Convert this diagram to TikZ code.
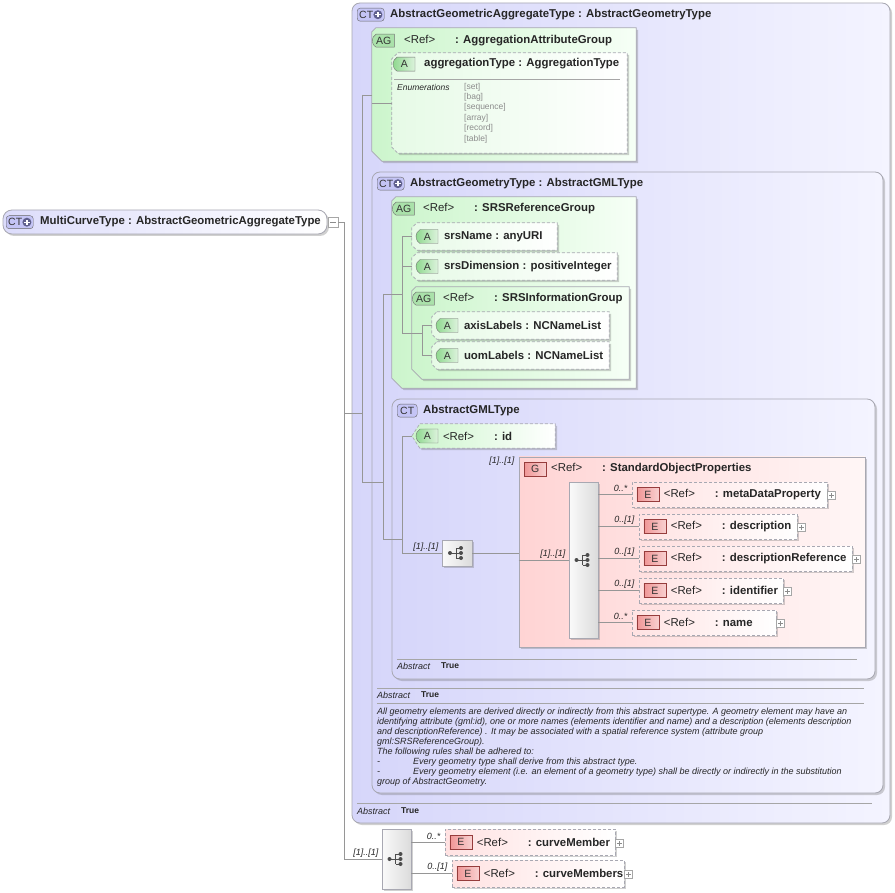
\documentclass[tikz,border=0pt]{standalone}
\usepackage{fontspec}
\setmainfont{Liberation Sans}
\usetikzlibrary{positioning,fit,shadows,shapes.misc}

\definecolor{ctfill}{RGB}{214,214,250}
\definecolor{ctlight}{RGB}{244,244,255}
\definecolor{agfill}{RGB}{204,245,204}
\definecolor{aglight}{RGB}{246,255,246}
\definecolor{attfill}{RGB}{230,250,230}
\definecolor{gfill}{RGB}{255,212,212}
\definecolor{glight}{RGB}{255,246,246}
\definecolor{efill}{RGB}{255,226,226}
\definecolor{edgec}{RGB}{168,168,178}
\definecolor{wirec}{RGB}{150,150,150}
\definecolor{ctbadgec}{RGB}{196,196,245}
\definecolor{agbadgec}{RGB}{170,225,170}
\definecolor{abadgec}{RGB}{140,215,140}
\definecolor{ebadgec}{RGB}{240,150,150}
\definecolor{ebordc}{RGB}{150,60,60}
\definecolor{plusc}{RGB}{95,95,140}

\newcommand{\boxat}[4]{\node[fit={(#3) (#4)}, inner sep=0pt, #1] (#2) {};}
\newcommand{\chamfer}[4]{\draw[#2] ([xshift=#3]#1.north west) -- (#1.north east) -- (#1.south east)
    -- ([xshift=#4]#1.south west) -- ([yshift=#4]#1.south west) -- ([yshift=-#3]#1.north west) -- cycle;}
\newcommand{\pointed}[3]{\draw[#2] ([xshift=#3]#1.north west) -- (#1.north east) -- (#1.south east)
    -- ([xshift=#3]#1.south west) -- (#1.west) -- cycle;}
\newcommand{\refto}[1]{\makebox[51pt][l]{\mdseries<Ref>}: #1}
\newcommand{\ctplus}[3]{\node[ctbdg, anchor=north west, minimum width=27pt] (#1) at (#2,#3) {};
    \node[bdgtxt, anchor=west] (#1-t) at ([xshift=2pt]#1.west) {CT};
    \node[plusdot] (#1-p) at ([xshift=-6.5pt]#1.east) {};
    \draw[white, line width=1.3pt] ([xshift=-2.6pt]#1-p.center) -- ([xshift=2.6pt]#1-p.center)
        ([yshift=-2.6pt]#1-p.center) -- ([yshift=2.6pt]#1-p.center);}
\newcommand{\plusbox}[2]{\node[pbox] (#1) at #2 {};
    \draw[black!45] ([xshift=-2.5pt]#1.center) -- ([xshift=2.5pt]#1.center)
        ([yshift=-2.5pt]#1.center) -- ([yshift=2.5pt]#1.center);}
\newcommand{\seqicon}[1]{\draw[black!70, line width=0.9pt] ([xshift=-7pt]#1.center) -- ([xshift=-1pt]#1.center)
        ([xshift=-1pt,yshift=5pt]#1.center) -- ([xshift=-1pt,yshift=-5pt]#1.center);
    \fill[black!70] ([xshift=-7pt]#1.center) circle (2pt);
    \foreach \d in {-5,0,5} {
        \draw[black!70, line width=0.9pt] ([xshift=-1pt,yshift=\d pt]#1.center) -- ([xshift=4pt,yshift=\d pt]#1.center);
        \fill[black!70] ([xshift=4pt,yshift=\d pt]#1.center) circle (2pt);}}
\newcommand{\attr}[4]{\boxat{}{#1}{#2}{#3}
    \chamfer{#1}{attbox}{5pt}{5pt}
    \node[abdg, anchor=west] (#1-b) at ([xshift=4pt]#1.west) {A};
    \node[hdr, anchor=west] (#1-t) at ([xshift=32pt]#1.west) {#4};}
\newcommand{\elem}[5]{\boxat{elbox}{#1}{#2}{#3}
    \node[ebdg, anchor=west] (#1-b) at ([xshift=5pt]#1.west) {E};
    \node[hdr, anchor=west] (#1-t) at ([xshift=32pt]#1.west) {\refto{#4}};
    \node[mult, anchor=east] (#1-m) at ([xshift=-4pt,yshift=6pt]#1.west) {#5};
    \plusbox{#1-x}{([xshift=4pt,yshift=-1pt]#1.east)}}

\tikzset{
    shadowed/.style={drop shadow={shadow xshift=2pt, shadow yshift=-2pt, fill=black!60, opacity=0.3}},
    wire/.style={draw=wirec, line width=0.7pt},
    rule/.style={draw=black!35, line width=0.7pt},
    rootbox/.style={draw=edgec, line width=0.8pt, rounded corners=9pt, left color=ctfill!85, right color=white, shadowed},
    ctbox/.style={draw=edgec, line width=0.8pt, rounded corners=8pt, left color=ctfill, right color=ctlight, shadowed},
    agbox/.style={draw=edgec, line width=0.8pt, left color=agfill, right color=aglight, shadowed},
    attbox/.style={draw=edgec, line width=0.7pt, dash pattern=on 3pt off 2pt, left color=attfill, right color=white, shadowed},
    idbox/.style={attbox, left color=agfill},
    grpbox/.style={draw=edgec, line width=0.8pt, left color=gfill, right color=glight, shadowed},
    elbox/.style={draw=edgec, line width=0.7pt, dash pattern=on 3pt off 2pt, left color=efill, right color=white, shadowed},
    seqbox/.style={draw=edgec, line width=0.7pt, left color=gray!4, right color=gray!28, shadowed},
    hdr/.style={font=\fontsize{11.4}{13}\selectfont\bfseries, text=black!85, inner sep=0pt},
    note/.style={font=\fontsize{9}{10}\selectfont\itshape, text=black!85, inner sep=0pt},
    flag/.style={font=\fontsize{8.5}{10}\selectfont\bfseries, text=black!85, inner sep=0pt},
    mult/.style={note},
    doc/.style={note, align=left},
    enum/.style={font=\fontsize{8.5}{9}\selectfont, text=black!45, inner sep=0pt},
    bdgtxt/.style={font=\fontsize{10.5}{11}\selectfont, text=black!80, inner sep=0pt},
    ctbdg/.style={draw=black!60, fill=ctbadgec, rounded corners=3pt, minimum height=13pt, inner sep=0pt, bdgtxt},
    plusdot/.style={circle, fill=plusc, minimum size=9pt, inner sep=0pt},
    agbdg/.style={rounded rectangle, rounded rectangle right arc=none, rounded rectangle arc length=120,
        draw=black!55, fill=agbadgec, minimum width=22pt, minimum height=13pt, inner sep=0pt, bdgtxt},
    abdg/.style={rounded rectangle, rounded rectangle right arc=none, rounded rectangle arc length=120,
        draw=black!55, left color=abadgec, right color=abadgec!30, minimum width=22pt, minimum height=14pt, inner sep=0pt, bdgtxt},
    ebdg/.style={draw=ebordc, left color=ebadgec, right color=ebadgec!45, minimum width=22pt, minimum height=14pt, inner sep=0pt, bdgtxt},
    pbox/.style={draw=black!35, fill=white, minimum size=8pt, inner sep=0pt}
}

\begin{document}
\begin{tikzpicture}[x=1pt, y=-1pt]
    \fill[white] (0,0) rectangle (895,893);
    \useasboundingbox (0,0) rectangle (895,893);

    % MultiCurveType
    \boxat{rootbox}{root}{3,210}{327,234}
    \ctplus{root-b}{6}{215.5}
    \node[hdr, anchor=west] (root-t) at (40,222) {MultiCurveType : AbstractGeometricAggregateType};
    \node[pbox, minimum size=10pt] (root-x) at (333,222) {};
    \draw[black!45] ([xshift=-3pt]root-x.center) -- ([xshift=3pt]root-x.center);

    % AbstractGeometricAggregateType
    \boxat{ctbox}{agg}{352,3}{890,823}
    \ctplus{agg-b}{357}{8}
    \node[hdr, anchor=west] (agg-t) at (390,14.5) {AbstractGeometricAggregateType : AbstractGeometryType};
    \draw[rule] (357,803) -- (872,803);
    \node[note, anchor=west] (agg-a) at (357,811) {Abstract};
    \node[flag, anchor=west] (agg-v) at (401,811) {True};

    \boxat{}{aggAG}{372,28}{636,161}
    \chamfer{aggAG}{agbox}{4pt}{10pt}
    \node[agbdg, anchor=north west] (aggAG-b) at (376,34) {AG};
    \node[hdr, anchor=west] (aggAG-t) at (404,41) {\refto{AggregationAttributeGroup}};

    \boxat{}{aggT}{392,53}{627,153}
    \chamfer{aggT}{attbox}{6pt}{6pt}
    \node[abdg, anchor=north west] (aggT-b) at (397,57) {A};
    \node[hdr, anchor=west] (aggT-t) at (424,64) {aggregationType : AggregationType};
    \draw[rule] (394,79) -- (620,79);
    \node[note, font=\fontsize{8.5}{9}\selectfont\itshape, anchor=west] (aggT-e) at (397,87) {Enumerations};
    \foreach \v [count=\i from 0] in {set,bag,sequence,array,record,table}
        \node[enum, anchor=west] (aggT-v\i) at (464,{87+10.4*\i}) {[\v]};

    % AbstractGeometryType
    \boxat{ctbox}{geom}{372,172}{883,793}
    \ctplus{geom-b}{377}{177}
    \node[hdr, anchor=west] (geom-t) at (410,183.5) {AbstractGeometryType : AbstractGMLType};
    \draw[rule] (377,688) -- (864,688);
    \node[note, anchor=west] (geom-a) at (377,695) {Abstract};
    \node[flag, anchor=west] (geom-v) at (421,695) {True};
    \draw[rule] (377,703) -- (864,703);
    \node[doc, anchor=north west] (geom-doc) at (377,708) {All geometry elements are derived directly or indirectly from this abstract supertype. A geometry element may have an\\
        identifying attribute (gml:id), one or more names (elements identifier and name) and a description (elements description\\
        and descriptionReference) . It may be associated with a spatial reference system (attribute group\\
        gml:SRSReferenceGroup).\\
        The following rules shall be adhered to:\\
        \makebox[36pt][l]{-}Every geometry type shall derive from this abstract type.\\
        \makebox[36pt][l]{-}Every geometry element (i.e. an element of a geometry type) shall be directly or indirectly in the substitution\\
        group of AbstractGeometry.};

    \boxat{}{srs}{392,197}{636,388}
    \chamfer{srs}{agbox}{4pt}{10pt}
    \node[agbdg, anchor=north west] (srs-b) at (396,202) {AG};
    \node[hdr, anchor=west] (srs-t) at (423,208.5) {\refto{SRSReferenceGroup}};

    \boxat{}{info}{412,287}{629,379}
    \chamfer{info}{agbox}{4pt}{10pt}
    \node[agbdg, anchor=north west] (info-b) at (416,292) {AG};
    \node[hdr, anchor=west] (info-t) at (443,298.5) {\refto{SRSInformationGroup}};

    % AbstractGMLType
    \boxat{ctbox}{gml}{392,399}{875,679}
    \node[ctbdg, anchor=north west, minimum width=20pt] (gml-b) at (397,404) {CT};
    \node[hdr, anchor=west] (gml-t) at (423,410.5) {AbstractGMLType};
    \draw[rule] (397,659) -- (857,659);
    \node[note, anchor=west] (gml-a) at (397,666) {Abstract};
    \node[flag, anchor=west] (gml-v) at (441,666) {True};

    \boxat{grpbox}{sop}{519,457}{865,647}
    \node[ebdg, anchor=north west] (sop-b) at (524,462) {G};
    \node[hdr, anchor=west] (sop-t) at (551,468.5) {\refto{StandardObjectProperties}};
    \node[mult, anchor=east] (sop-m) at ([xshift=-4pt,yshift=-5pt]sop.north west) {[1]..[1]};

    % sequences
    \boxat{seqbox}{seqA}{442,540}{472,566}
    \boxat{seqbox}{seqB}{569,482}{598,638}
    \boxat{seqbox}{seqC}{382,829}{411,889}
    \foreach \s in {seqA,seqB,seqC} {
        \seqicon{\s}
        \node[mult, anchor=east] (\s-m) at ([xshift=-3pt,yshift=6pt]\s.west) {[1]..[1]};
    }

    % attributes
    \attr{srsN}{412,223}{557,250}{srsName : anyURI}
    \attr{srsD}{412,253}{617,280}{srsDimension : positiveInteger}
    \attr{axis}{432,312}{609,339}{axisLabels : NCNameList}
    \attr{uom}{432,342}{609,369}{uomLabels : NCNameList}
    \boxat{}{id}{412,424}{555,448}
    \pointed{id}{idbox}{8pt}
    \node[abdg, anchor=west] (id-b) at ([xshift=4pt]id.west) {A};
    \node[hdr, anchor=west] (id-t) at ([xshift=31pt]id.west) {\refto{id}};

    % elements
    \elem{mdp}{632,482}{827,507}{metaDataProperty}{0..*}
    \elem{desc}{639,514}{797,539}{description}{0..[1]}
    \elem{dref}{639,546}{852,571}{descriptionReference}{0..[1]}
    \elem{ident}{639,578}{783,603}{identifier}{0..[1]}
    \elem{oname}{632,610}{776,635}{name}{0..*}
    \elem{cm}{445,829}{615,855}{curveMember}{0..*}
    \elem{cms}{452,860}{624,887}{curveMembers}{0..[1]}

    % connectors
    \coordinate (j0) at (344,222);
    \coordinate (j1) at (344,413);
    \coordinate (aggbus) at (362,95);
    \coordinate (aggbus-end) at (362,482);
    \coordinate (geombus) at (383,294);
    \coordinate (geombus-end) at (383,539);
    \coordinate (srsbus) at (402,333);
    \coordinate (infobus) at (422,333);
    \coordinate (gmlbus) at (402,539);
    \draw[wire] (root-x.east) -- (j0) |- (seqC.west);
    \draw[wire] (j1) -- (j1 -| aggbus);
    \draw[wire] (aggbus) -- (aggbus-end);
    \draw[wire] (aggbus) -- (aggbus -| aggAG.west);
    \draw[wire] (aggAG.west |- aggT.west) -- (aggT.west);
    \draw[wire] (aggbus-end) -- (aggbus-end -| geombus);
    \draw[wire] (geombus) -- (geombus-end);
    \draw[wire] (geombus) -- (geombus -| srsbus);
    \draw[wire] (srsN.west) -| (srsbus) -- (infobus);
    \draw[wire] (srsD.west) -- (srsD.west -| srsbus);
    \draw[wire] (axis.west) -| (infobus |- uom.west) -- (uom.west);
    \draw[wire] (geombus-end) -- (gmlbus);
    \draw[wire] (id.west) -| (gmlbus |- seqA.west) -- (seqA.west);
    \draw[wire] (seqA.east) -- (seqA.east -| sop.west);
    \draw[wire] (sop.west |- seqB.west) -- (seqB.west);
    \foreach \e in {mdp,desc,dref,ident,oname}
        \draw[wire] (seqB.east |- \e.west) -- (\e.west);
    \foreach \e in {cm,cms}
        \draw[wire] (seqC.east |- \e.west) -- (\e.west);
\end{tikzpicture}
\end{document}
